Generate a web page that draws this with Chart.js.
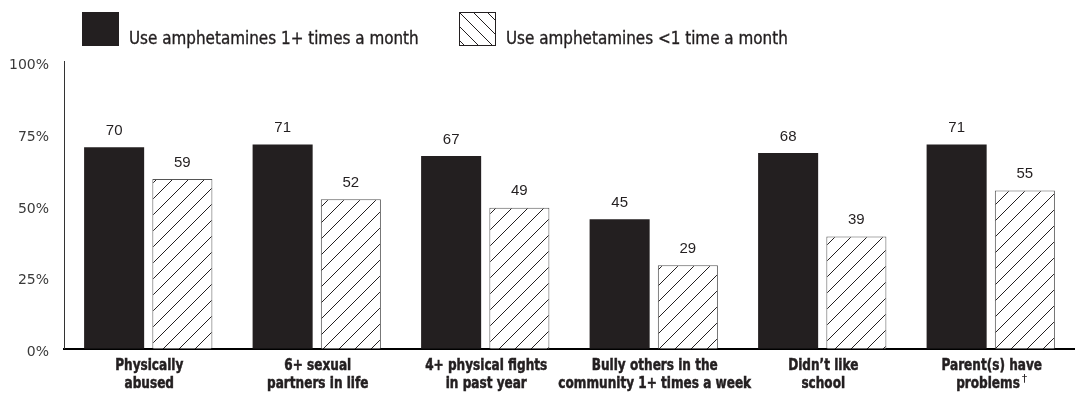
<!DOCTYPE html>
<html>
<head>
<meta charset="utf-8">
<script src="https://cdn.jsdelivr.net/npm/chart.js@4.4.1/dist/chart.umd.min.js"></script>
<style>
  body { margin: 0; background: #fff; }
  #wrap { position: relative; width: 1075px; height: 398px; }
  #legend { position: absolute; left: 82px; top: 12px; display: flex; align-items: flex-end;
            font-family: "DejaVu Sans Condensed", sans-serif; font-size: 17.5px; color: #231f20; }
  #legend .item { display: flex; align-items: flex-end; margin-right: 30px; }
  #legend canvas { margin-right: 10px; }
  #legend span { line-height: 1; margin-bottom: -1px; display: inline-block; transform: scaleX(0.965); transform-origin: left bottom;
                 white-space: nowrap; -webkit-text-stroke: 0.35px #231f20; }
</style>
</head>
<body>
<div id="wrap">
  <div id="legend"></div>
  <canvas id="myChart" width="1075" height="398"></canvas>
</div>
<script>
const categories = [
    ['Physically', 'abused'],
    ['6+ sexual', 'partners in life'],
    ['4+ physical fights', 'in past year'],
    ['Bully others in the', 'community 1+ times a week'],
    ['Didn\u2019t like', 'school'],
    ['Parent(s) have', 'problems\u2020']
];
const frequentUse = [70, 71, 67, 45, 68, 71];
const infrequentUse = [59, 52, 49, 29, 39, 55];
const seriesNames = ['Use amphetamines 1+ times a month', 'Use amphetamines <1 time a month'];
const yTicks = [0, 25, 50, 75, 100];

const DARK = '#231f20';
const CAT_FONT = 'bold 16px "DejaVu Sans Condensed", sans-serif';

function hatch(size, forward) {
    const c = document.createElement('canvas');
    c.width = size;
    c.height = size;
    const g = c.getContext('2d');
    g.fillStyle = '#fff';
    g.fillRect(0, 0, size, size);
    g.strokeStyle = DARK;
    g.lineWidth = 1;
    g.beginPath();
    if (forward) {
        g.moveTo(0, size); g.lineTo(size, 0);
        g.moveTo(-1, 1); g.lineTo(1, -1);
        g.moveTo(size - 1, size + 1); g.lineTo(size + 1, size - 1);
    } else {
        g.moveTo(0, 0); g.lineTo(size, size);
        g.moveTo(size - 1, -1); g.lineTo(size + 1, 1);
        g.moveTo(-1, size - 1); g.lineTo(1, size + 1);
    }
    g.stroke();
    return c;
}

const ctx = document.getElementById('myChart').getContext('2d');
const barHatch = ctx.createPattern(hatch(16, true), 'repeat');

// legend swatches
const legend = document.getElementById('legend');
seriesNames.forEach((name, i) => {
    const item = document.createElement('div');
    item.className = 'item';
    const sw = document.createElement('canvas');
    sw.width = 37;
    sw.height = 34;
    const g = sw.getContext('2d');
    if (i === 0) {
        g.fillStyle = DARK;
        g.fillRect(0, 0, 37, 34);
    } else {
        g.fillStyle = g.createPattern(hatch(14, false), 'repeat');
        g.fillRect(0, 0, 37, 34);
        g.strokeStyle = DARK;
        g.strokeRect(0.5, 0.5, 36, 33);
    }
    const label = document.createElement('span');
    label.textContent = name;
    item.appendChild(sw);
    item.appendChild(label);
    legend.appendChild(item);
});

// value labels above bars, plus the condensed axis labels
const chartText = {
    id: 'chartText',
    afterDatasetsDraw(chart) {
        const c = chart.ctx;
        c.save();
        c.font = '15px "Liberation Sans", Arial, sans-serif';
        c.fillStyle = DARK;
        c.textAlign = 'center';
        c.textBaseline = 'bottom';
        chart.data.datasets.forEach((ds, i) => {
            chart.getDatasetMeta(i).data.forEach((bar, j) => {
                c.fillText(ds.data[j], bar.x, bar.y - 9);
            });
        });
        c.restore();
    },
    afterDraw(chart) {
        const c = chart.ctx;
        const xs = chart.scales.x;
        const ys = chart.scales.y;
        c.save();

        // y tick labels sit a little below their value
        c.font = '14px "DejaVu Sans", Verdana, sans-serif';
        c.fillStyle = '#3a3a3a';
        c.textAlign = 'right';
        c.textBaseline = 'middle';
        yTicks.forEach(v => c.fillText(v + '%', ys.right - 15, ys.getPixelForValue(v) + 4));

        // category labels, two lines, horizontally condensed
        c.fillStyle = DARK;
        c.strokeStyle = DARK;
        c.lineWidth = 0.5;
        c.textBaseline = 'middle';
        const sx = 0.84;
        categories.forEach((lines, i) => {
            const cx = xs.getPixelForTick(i) + 1;
            lines.forEach((line, k) => {
                const y = xs.top + 17 + k * 18;
                let main = line;
                let mark = '';
                if (line.endsWith('\u2020')) {
                    main = line.slice(0, -1);
                    mark = '\u2020';
                }
                c.font = CAT_FONT;
                const w = c.measureText(main).width * sx;
                c.font = '11px "DejaVu Sans", sans-serif';
                const mw = mark ? c.measureText(mark).width + 2 : 0;
                const left = cx - (w + mw) / 2;
                c.save();
                c.translate(left, y);
                c.scale(sx, 1);
                c.font = CAT_FONT;
                c.textAlign = 'left';
                c.fillText(main, 0, 0);
                c.strokeText(main, 0, 0);
                c.restore();
                if (mark) {
                    c.font = '11px "DejaVu Sans", sans-serif';
                    c.textAlign = 'left';
                    c.fillText(mark, left + w + 2, y - 5);
                }
            });
        });
        c.restore();
    }
};

new Chart(ctx, {
    type: 'bar',
    data: {
        labels: categories,
        datasets: [
            {
                label: seriesNames[0],
                data: frequentUse,
                backgroundColor: DARK,
                borderWidth: 0,
                barPercentage: 0.88,
                categoryPercentage: 0.81
            },
            {
                label: seriesNames[1],
                data: infrequentUse,
                backgroundColor: barHatch,
                borderColor: '#555',
                borderWidth: 1,
                barPercentage: 0.88,
                categoryPercentage: 0.81
            }
        ]
    },
    options: {
        responsive: false,
        animation: false,
        layout: { padding: { top: 61, right: 0, left: 0, bottom: 0 } },
        plugins: {
            legend: { display: false },
            tooltip: { enabled: false }
        },
        scales: {
            x: {
                grid: { display: false, drawTicks: false },
                border: { color: '#000', width: 2 },
                ticks: {
                    color: 'rgba(0,0,0,0)',
                    padding: 7,
                    autoSkip: false,
                    maxRotation: 0,
                    font: { family: '"DejaVu Sans Condensed", sans-serif', size: 16, weight: 'bold', lineHeight: 1.1 }
                }
            },
            y: {
                min: 0,
                max: 100,
                afterBuildTicks: (axis) => { axis.ticks = yTicks.map(v => ({ value: v })); },
                afterFit: (axis) => { axis.width = 64; },
                grid: { display: false, drawTicks: false },
                border: { color: '#333', width: 1 },
                ticks: { color: 'rgba(0,0,0,0)', callback: (v) => v + '%' }
            }
        }
    },
    plugins: [chartText]
});
</script>
</body>
</html>
